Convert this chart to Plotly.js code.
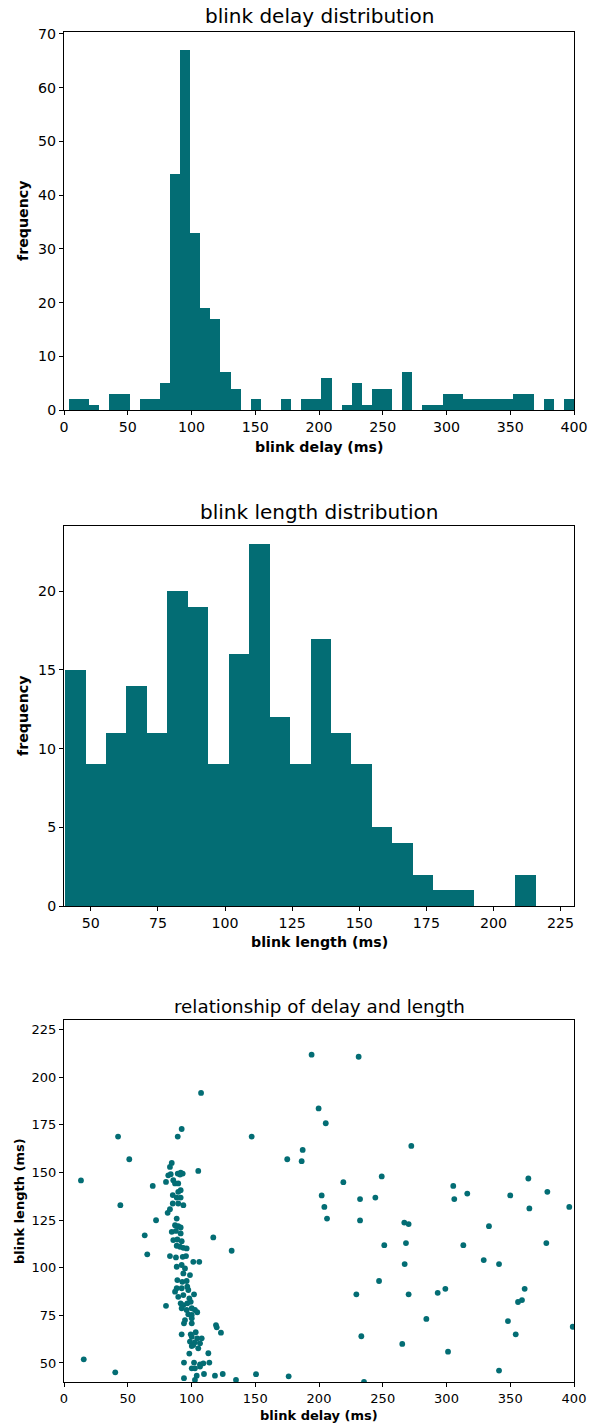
<!DOCTYPE html>
<html>
<head>
<meta charset="utf-8">
<script src="https://cdn.plot.ly/plotly-3.0.1.min.js"></script>
<style>html,body{margin:0;padding:0;background:#fff;}#chart{width:589px;height:1424px;}</style>
</head>
<body>
<div id="chart"></div>
<script>
// ---- Data ----
// Histogram 1: blink delay (ms), 50 equal bins between data min and max
const delayBinRange = [3.9, 400];
const delayCounts = [2,2,1,0,3,3,0,2,2,5,44,67,33,19,17,7,4,0,2,0,0,2,0,2,2,6,0,1,5,1,4,4,0,7,0,1,1,3,3,2,2,2,2,2,3,3,0,2,0,2];

// Histogram 2: blink length (ms), 23 equal bins between data min and max
const lengthBinRange = [40.4, 215.7];
const lengthCounts = [15,9,11,14,11,20,19,9,16,23,12,9,17,11,9,5,4,2,1,1,0,0,2];

// Scatter: blink delay (ms) vs blink length (ms)
const scatterDelay = [
 13.3,42.4,51.2,44.2,107.5,92.3,89.2,147.2,194.2,199.7,175.1,187.2,186.4,
 63.3,65.3,15.5,40.2,150.6,176.2,
 231.1,205.3,272.4,249.2,219.1,202.1,204.2,232.2,244.2,305.3,306.1,316.3,350.0,364.2,379.1,365.0,396.3,
 206.3,232.2,266.9,270.3,333.3,251.2,268.2,313.2,378.3,329.2,341.2,267.2,247.1,229.3,270.3,293.1,299.1,361.3,356.1,359.2,284.2,348.2,399.0,233.2,354.3,265.3,301.2,341.2,235.3,
 84.5,83.1,89.2,91.5,93.1,91.0,81.8,83.7,105.3,69.6,80.0,85.7,87.1,89.6,91.5,89.6,85.3,88.4,91.5,85.3,89.6,93.6,83.1,81.3,72.2,88.4,87.1,89.6,91.5,84.5,87.8,91.5,117.1,85.7,88.9,92.3,88.4,91.0,93.6,96.2,131.5,83.1,87.8,93.1,95.7,
 101.4,106.1,88.4,92.3,94.9,98.8,93.6,88.9,92.8,96.2,88.4,87.1,92.3,96.7,97.5,89.6,93.6,98.3,102.0,80.0,91.5,93.6,96.7,99.4,92.3,96.2,100.2,102.7,104.5,97.5,100.2,94.9,100.2,94.1,100.2,119.2,119.8,123.1,92.3,99.4,103.3,100.2,104.5,108.0,98.8,102.7,106.7,100.2,101.4,105.3,98.3,113.2,94.1,102.0,106.7,109.3,114.0,100.2,102.7,106.7,104.1,109.8,118.4,124.5,94.1,102.7,134.9
];
const scatterLength = [
 145.8,168.8,156.9,132.8,191.7,172.8,168.8,168.8,211.8,183.6,156.9,161.8,155.9,
 117.0,107.0,51.9,45.1,44.1,43.0,
 210.7,175.8,163.9,147.9,144.9,137.9,131.9,136.0,136.8,142.9,136.0,138.9,137.9,146.8,139.8,131.1,131.9,
 125.8,124.8,123.7,122.9,121.8,111.8,112.9,111.8,112.9,104.0,101.9,101.9,93.0,86.0,86.0,86.8,88.9,88.9,82.0,83.0,73.1,72.0,69.0,64.0,65.0,60.0,55.9,46.0,40.0,
 155.0,152.9,149.4,149.9,149.4,148.9,148.5,149.1,150.8,142.9,145.0,145.9,144.2,144.2,140.7,139.8,138.1,136.8,136.8,133.7,133.7,132.8,130.7,128.8,124.9,125.8,122.3,121.8,121.1,118.8,119.3,118.0,115.9,114.5,114.8,113.9,111.5,111.0,110.4,110.1,108.9,106.1,105.4,105.7,106.1,
 103.1,103.1,100.5,101.4,99.6,96.1,97.0,93.5,92.6,93.0,89.2,87.4,89.2,90.0,88.3,84.7,85.6,83.9,86.0,80.0,81.3,80.4,81.3,82.1,78.7,77.8,78.7,77.8,76.6,75.5,75.2,72.5,73.4,70.8,70.8,69.9,68.7,65.9,65.0,65.0,66.1,63.8,62.9,62.9,61.2,60.8,60.3,58.9,59.4,57.7,54.9,55.1,50.2,50.2,49.3,49.8,50.2,47.2,47.2,48.1,43.3,44.2,43.3,44.2,42.0,41.1,41.1
];

const titles = ['blink delay distribution', 'blink length distribution', 'relationship of delay and length'];
const xLabels = ['blink delay (ms)', 'blink length (ms)', 'blink delay (ms)'];
const yLabels = ['frequency', 'frequency', 'blink length (ms)'];

// ---- Build bins ----
function binsFrom(range, counts) {
  const w = (range[1] - range[0]) / counts.length;
  const centers = counts.map((_, i) => range[0] + w * (i + 0.5));
  return {centers, w};
}
const b1 = binsFrom(delayBinRange, delayCounts);
const b2 = binsFrom(lengthBinRange, lengthCounts);

const teal = '#036d74';
const W = 589, H = 1424;
const px = v => v / W;
const py = v => 1 - v / H;

const traces = [
  {type: 'bar', x: b1.centers, y: delayCounts, width: b1.w, marker: {color: teal, line: {width: 0}}, xaxis: 'x', yaxis: 'y', hoverinfo: 'x+y'},
  {type: 'bar', x: b2.centers, y: lengthCounts, width: b2.w, marker: {color: teal, line: {width: 0}}, xaxis: 'x2', yaxis: 'y2', hoverinfo: 'x+y'},
  {type: 'scatter', mode: 'markers', x: scatterDelay, y: scatterLength, marker: {color: teal, size: 5.8, line: {width: 0}}, xaxis: 'x3', yaxis: 'y3'}
];

const font = 'DejaVu Sans, sans-serif';
function ax(extra, fs) {
  return Object.assign({
    showline: true, mirror: true, linecolor: '#000', linewidth: 1,
    ticks: 'outside', ticklen: 4, tickwidth: 1, tickcolor: '#000',
    showgrid: false, zeroline: false, fixedrange: true,
    tickfont: {family: font, size: fs, color: '#000'}
  }, extra);
}
const xd = [px(64), px(574)];
const F1 = 14.2, F3 = 13;
const layout = {
  width: W, height: H,
  margin: {l: 0, r: 0, t: 0, b: 0},
  paper_bgcolor: '#fff', plot_bgcolor: '#fff',
  showlegend: false, bargap: 0,
  xaxis: ax({domain: xd, range: [0, 400], tickvals: [0,50,100,150,200,250,300,350,400], anchor: 'y'}, F1),
  yaxis: ax({domain: [py(410), py(32)], range: [0, 70.35], tickvals: [0,10,20,30,40,50,60,70], anchor: 'x'}, F1),
  xaxis2: ax({domain: xd, range: [40, 230], tickvals: [50,75,100,125,150,175,200,225], anchor: 'y2'}, F1),
  yaxis2: ax({domain: [py(906), py(526)], range: [0, 24.15], tickvals: [0,5,10,15,20], anchor: 'x2'}, F1),
  xaxis3: ax({domain: xd, range: [0, 400], tickvals: [0,50,100,150,200,250,300,350,400], anchor: 'y3'}, F3),
  yaxis3: ax({domain: [py(1382), py(1020)], range: [40, 230], tickvals: [50,75,100,125,150,175,200,225], anchor: 'x3'}, F3),
  annotations: [
    {text: titles[0], x: px(319), y: py(16), xref: 'paper', yref: 'paper', showarrow: false, xanchor: 'center', yanchor: 'middle', font: {family: font, size: 20, color: '#000'}},
    {text: titles[1], x: px(319), y: py(512), xref: 'paper', yref: 'paper', showarrow: false, xanchor: 'center', yanchor: 'middle', font: {family: font, size: 20, color: '#000'}},
    {text: titles[2], x: px(319), y: py(1006), xref: 'paper', yref: 'paper', showarrow: false, xanchor: 'center', yanchor: 'middle', font: {family: font, size: 18.3, color: '#000'}},
    {text: '<b>' + xLabels[0] + '</b>', x: px(319), y: py(447), xref: 'paper', yref: 'paper', showarrow: false, xanchor: 'center', yanchor: 'middle', font: {family: font, size: F1, color: '#000'}},
    {text: '<b>' + xLabels[1] + '</b>', x: px(319), y: py(942), xref: 'paper', yref: 'paper', showarrow: false, xanchor: 'center', yanchor: 'middle', font: {family: font, size: F1, color: '#000'}},
    {text: '<b>' + xLabels[2] + '</b>', x: px(319), y: py(1415), xref: 'paper', yref: 'paper', showarrow: false, xanchor: 'center', yanchor: 'middle', font: {family: font, size: F3, color: '#000'}},
    {text: '<b>' + yLabels[0] + '</b>', x: px(23), y: py(221), xref: 'paper', yref: 'paper', showarrow: false, textangle: -90, xanchor: 'center', yanchor: 'middle', font: {family: font, size: F1, color: '#000'}},
    {text: '<b>' + yLabels[1] + '</b>', x: px(23), y: py(716), xref: 'paper', yref: 'paper', showarrow: false, textangle: -90, xanchor: 'center', yanchor: 'middle', font: {family: font, size: F1, color: '#000'}},
    {text: '<b>' + yLabels[2] + '</b>', x: px(19), y: py(1201), xref: 'paper', yref: 'paper', showarrow: false, textangle: -90, xanchor: 'center', yanchor: 'middle', font: {family: font, size: F3, color: '#000'}}
  ]
};
Plotly.newPlot('chart', traces, layout, {displayModeBar: false, staticPlot: true});
</script>
</body>
</html>
